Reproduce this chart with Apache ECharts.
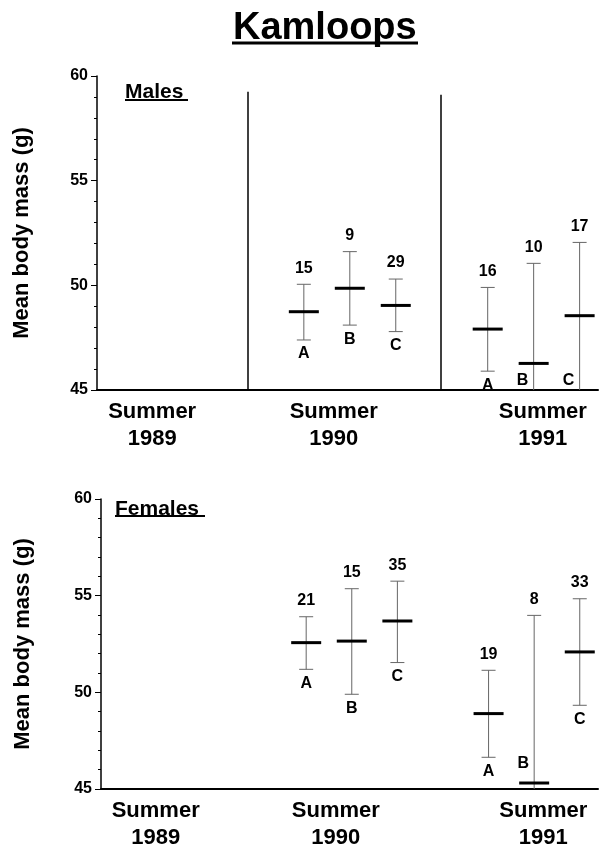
<!DOCTYPE html>
<html>
<head>
<meta charset="utf-8">
<script src="https://cdn.jsdelivr.net/npm/echarts@6/dist/echarts.min.js"></script>
<style>
  html, body { margin: 0; padding: 0; background: #fff; }
  #chart { width: 600px; height: 851px; }
</style>
</head>
<body>
<div id="chart"></div>
<script>
// group positions on the x axis (A, B, C in 1990, then A, B, C in 1991)
var slots = [4.5, 5.5, 6.5, 8.5, 9.5, 10.5];
var letters = ['A', 'B', 'C', 'A', 'B', 'C'];
var seasonPos = [1.2, 5.15, 9.7];
var seasonNames = ['Summer\n1989', 'Summer\n1990', 'Summer\n1991'];
var dividerX = [3.28, 7.48];

// males
var maleMean = [48.74, 49.86, 49.04, 47.91, 46.27, 48.55];
var maleLow  = [47.39, 48.10, 47.79, 45.90, 45.00, 45.00];
var maleHigh = [50.05, 51.61, 50.30, 49.90, 51.05, 52.05];
var maleN    = [15, 9, 29, 16, 10, 17];
var maleDividerTop = [59.25, 59.1];

// females
var femaleMean = [52.57, 52.65, 53.69, 48.90, 45.31, 52.09];
var femaleLow  = [51.19, 49.90, 51.54, 46.64, 45.00, 49.33];
var femaleHigh = [53.91, 55.36, 55.75, 51.14, 53.98, 54.84];
var femaleN    = [21, 15, 35, 19, 8, 33];
var femaleDividerTop = [60.25, 60.1];

var Y_MIN = 45, Y_MAX = 60;
var FONT = 'Liberation Sans, Arial, Helvetica, sans-serif';

var myChart = echarts.init(document.getElementById('chart'));

function buildData(mean, low, high, n) {
  return slots.map(function (x, i) { return [x, mean[i], low[i], high[i], n[i]]; });
}

function renderBar(params, api) {
  var x = api.value(0), mean = api.value(1), lo = api.value(2), hi = api.value(3), n = api.value(4);
  var pm = api.coord([x, mean]);
  var ph = api.coord([x, hi]);
  var pl = api.coord([x, lo]);
  var p0 = api.coord([x, Y_MIN]);
  var whisker = { stroke: '#666', lineWidth: 1 };
  var kids = [
    { type: 'line', shape: { x1: ph[0], y1: ph[1], x2: pl[0], y2: pl[1] }, style: whisker },
    { type: 'line', shape: { x1: ph[0] - 7, y1: ph[1], x2: ph[0] + 7, y2: ph[1] }, style: whisker },
    { type: 'line', shape: { x1: pm[0] - 15, y1: pm[1], x2: pm[0] + 15, y2: pm[1] }, style: { stroke: '#000', lineWidth: 3 } },
    { type: 'text', x: ph[0], y: ph[1] - 16,
      style: { text: String(n), fill: '#000', font: 'bold 16px ' + FONT, textAlign: 'center', textVerticalAlign: 'middle' } }
  ];
  var lx, ly;
  if (lo > Y_MIN) {
    kids.push({ type: 'line', shape: { x1: pl[0] - 7, y1: pl[1], x2: pl[0] + 7, y2: pl[1] }, style: whisker });
    lx = pl[0]; ly = pl[1] + 14;
  } else {
    // whisker reaches the axis: letter sits to the left, above the mean bar if it is low
    lx = pl[0] - 11;
    ly = (p0[1] - pm[1] < 15) ? pm[1] - 19 : p0[1] - 9;
  }
  kids.push({ type: 'text', x: lx, y: ly,
    style: { text: letters[params.dataIndex], fill: '#000', font: 'bold 16px ' + FONT, textAlign: 'center', textVerticalAlign: 'middle' } });
  return { type: 'group', children: kids };
}

function dividers(tops) {
  return {
    silent: true,
    symbol: 'none',
    label: { show: false },
    lineStyle: { color: '#000', width: 1.5, type: 'solid' },
    data: dividerX.map(function (x, i) { return [{ coord: [x, Y_MIN] }, { coord: [x, tops[i]] }]; })
  };
}

function xAxisOpt(idx) {
  return {
    type: 'value', gridIndex: idx, min: 0, max: 10.9,
    splitLine: { show: false },
    axisTick: { show: false },
    axisLine: { lineStyle: { color: '#000', width: 2 } },
    axisLabel: {
      customValues: seasonPos,
      formatter: function (v) { return seasonNames[seasonPos.indexOf(v)]; },
      color: '#000', fontSize: 22, fontWeight: 'bold', fontFamily: FONT, lineHeight: 27, margin: 8
    }
  };
}

function yAxisOpt(idx, gap) {
  return {
    type: 'value', gridIndex: idx, min: Y_MIN, max: Y_MAX, interval: 5,
    name: 'Mean body mass (g)', nameLocation: 'middle', nameGap: gap,
    nameTextStyle: { color: '#000', fontSize: 22, fontWeight: 'bold', fontFamily: FONT },
    splitLine: { show: false },
    axisLine: { show: true, lineStyle: { color: '#000', width: 1.5 } },
    axisTick: { show: true, length: 6, lineStyle: { color: '#000' } },
    minorTick: { show: true, splitNumber: 5, length: 3, lineStyle: { color: '#000' } },
    axisLabel: { color: '#000', fontSize: 16, fontWeight: 'bold', fontFamily: FONT, margin: 9 }
  };
}

myChart.setOption({
  animation: false,
  backgroundColor: '#fff',
  title: [
    { text: 'Kamloops', left: 228, top: 5,
      textStyle: { fontSize: 38, fontWeight: 'bold', color: '#000', fontFamily: FONT } },
    { text: 'Males', left: 120, top: 77,
      textStyle: { fontSize: 21, fontWeight: 'bold', color: '#000', fontFamily: FONT } },
    { text: 'Females', left: 110, top: 494,
      textStyle: { fontSize: 21, fontWeight: 'bold', color: '#000', fontFamily: FONT } }
  ],
  graphic: [
    { type: 'line', shape: { x1: 232, y1: 43, x2: 418, y2: 43 }, style: { stroke: '#000', lineWidth: 3 } },
    { type: 'line', shape: { x1: 125, y1: 100, x2: 188, y2: 100 }, style: { stroke: '#000', lineWidth: 2 } },
    { type: 'line', shape: { x1: 115, y1: 516, x2: 205, y2: 516 }, style: { stroke: '#000', lineWidth: 2 } }
  ],
  grid: [
    { left: 97, top: 76, width: 501, height: 314 },
    { left: 101, top: 499, width: 497, height: 291 }
  ],
  xAxis: [xAxisOpt(0), xAxisOpt(1)],
  yAxis: [yAxisOpt(0, 64), yAxisOpt(1, 67)],
  series: [
    {
      name: 'Males', type: 'custom', xAxisIndex: 0, yAxisIndex: 0,
      renderItem: renderBar, clip: false,
      encode: { x: 0, y: [1, 2, 3] },
      data: buildData(maleMean, maleLow, maleHigh, maleN),
      markLine: dividers(maleDividerTop)
    },
    {
      name: 'Females', type: 'custom', xAxisIndex: 1, yAxisIndex: 1,
      renderItem: renderBar, clip: false,
      encode: { x: 0, y: [1, 2, 3] },
      data: buildData(femaleMean, femaleLow, femaleHigh, femaleN),
      markLine: dividers(femaleDividerTop)
    }
  ]
});
</script>
</body>
</html>
